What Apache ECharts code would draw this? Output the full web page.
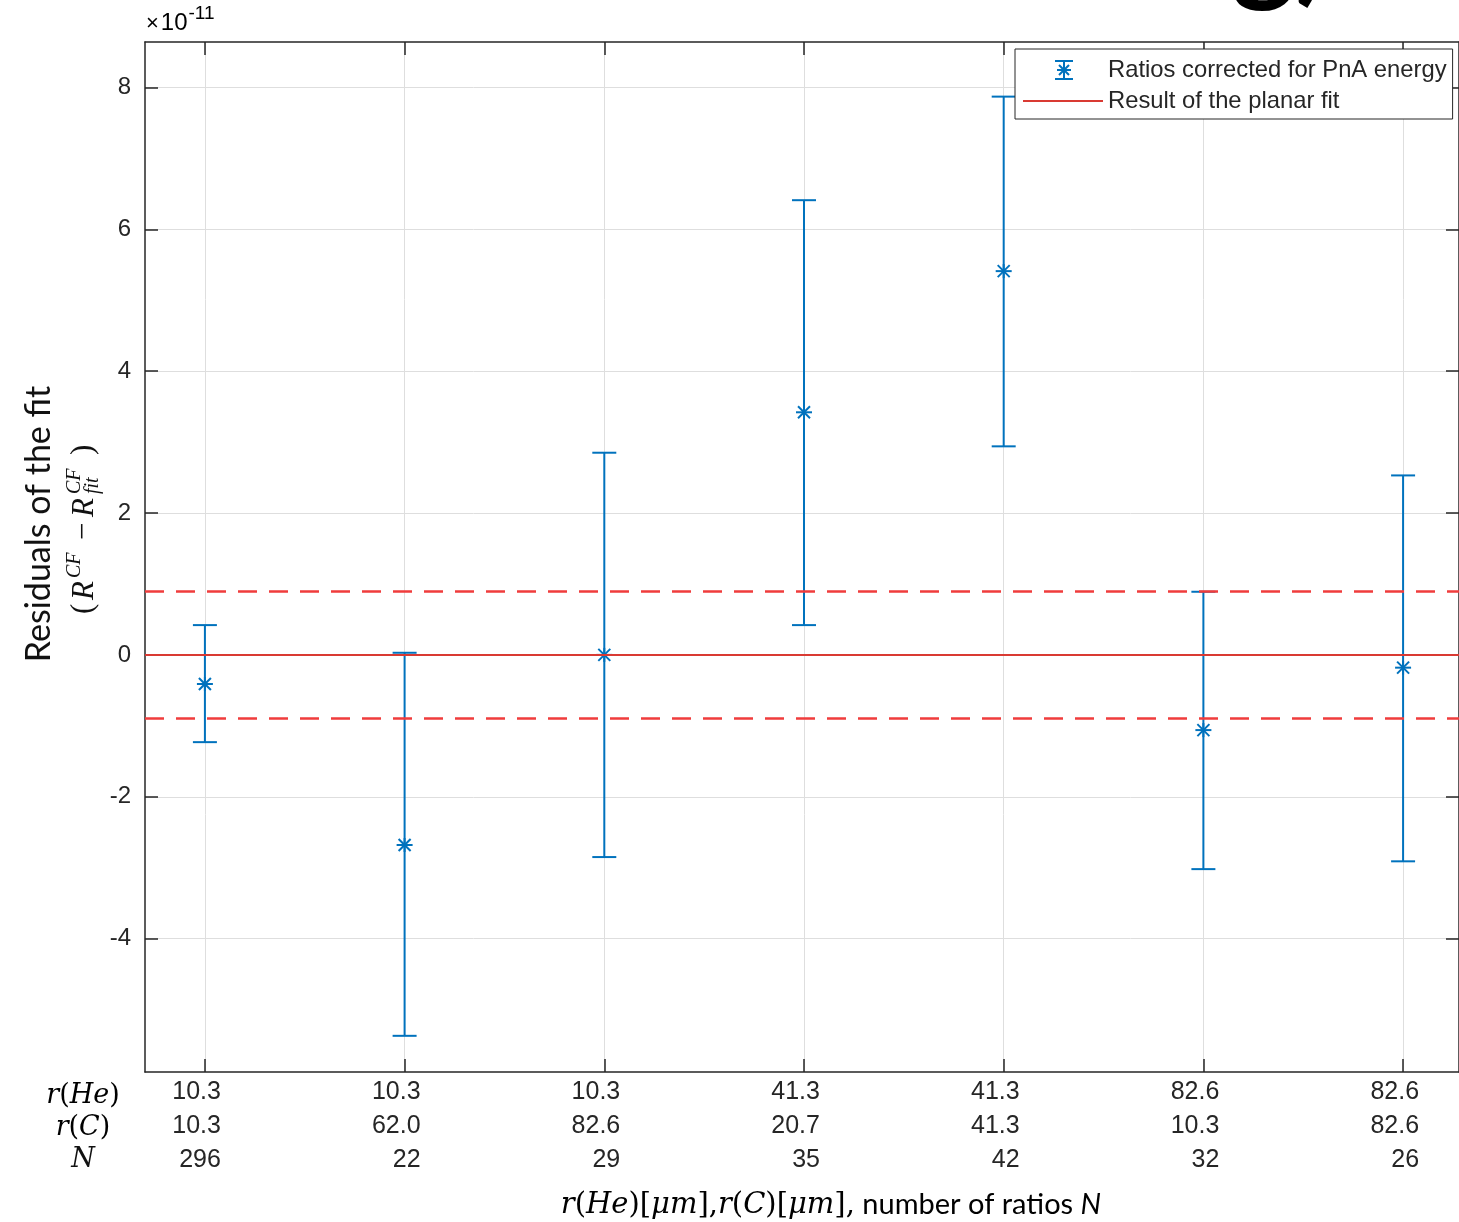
<!DOCTYPE html>
<html>
<head>
<meta charset="utf-8">
<script src="https://cdn.jsdelivr.net/npm/echarts@6/dist/echarts.min.js"></script>
<style>
  html, body { margin: 0; padding: 0; background: #fff; }
  #container { width: 1459px; height: 1222px; }
</style>
</head>
<body>
<div id="container"></div>
<script>
// tick labels under each point
var rHe = ['10.3', '10.3', '10.3', '41.3', '41.3', '82.6', '82.6'];
var rC = ['10.3', '62.0', '82.6', '20.7', '41.3', '10.3', '82.6'];
var nRatios = ['296', '22', '29', '35', '42', '32', '26'];
var positions = [1, 2, 3, 4, 5, 6, 7];
// residuals, in units of 1e-11
var residuals = [-0.41, -2.68, 0.00, 3.42, 5.41, -1.06, -0.18];
var errLow = [-1.23, -5.37, -2.85, 0.42, 2.94, -3.02, -2.91];
var errHigh = [0.42, 0.03, 2.85, 6.41, 7.87, 0.89, 2.53];
var fitLevel = 0;
var bandLevels = [0.9, -0.9];
var yTicks = [-4, -2, 0, 2, 4, 6, 8];

var blue = '#0072BD';
var fitRed = '#d93a33';
var axisColor = '#262626';
var sansFont = 'Liberation Sans';
var mathFont = 'DejaVu Serif';

var errData = [];
for (var i = 0; i < positions.length; i++) {
    errData.push([positions[i], residuals[i], errLow[i], errHigh[i]]);
}

function renderErrorBar(params, api) {
    var x = api.value(0);
    var p = api.coord([x, api.value(1)]);
    var lo = api.coord([x, api.value(2)]);
    var hi = api.coord([x, api.value(3)]);
    var cap = 12, s = 7;
    var st = { stroke: blue, lineWidth: 2, fill: null };
    function seg(x1, y1, x2, y2) {
        return { type: 'line', shape: { x1: x1, y1: y1, x2: x2, y2: y2 }, style: st };
    }
    return {
        type: 'group',
        children: [
            seg(hi[0], hi[1], lo[0], lo[1]),
            seg(hi[0] - cap, hi[1], hi[0] + cap, hi[1]),
            seg(lo[0] - cap, lo[1], lo[0] + cap, lo[1]),
            // asterisk marker
            seg(p[0] - s - 1, p[1], p[0] + s + 1, p[1]),
            seg(p[0], p[1] - s, p[0], p[1] + s),
            seg(p[0] - s + 1, p[1] - s + 1, p[0] + s - 1, p[1] + s - 1),
            seg(p[0] + s - 1, p[1] - s + 1, p[0] - s + 1, p[1] + s - 1)
        ]
    };
}

var dom = document.getElementById('container');
var myChart = echarts.init(dom);

var errIcon = 'path://M0 0M80 20M32 1L50 1M32 19L50 19M41 1L41 19M34 10L48 10M41 4L41 16M36 5L46 15M46 5L36 15';
var lineIcon = 'path://M0 0M80 20M0 10L80 10';

var option = {
    animation: false,
    backgroundColor: '#fff',
    grid: { left: 145, top: 42, right: 0, bottom: 150, containLabel: false },
    legend: {
        orient: 'vertical',
        left: 1015,
        top: 49,
        itemWidth: 80,
        itemHeight: 20,
        itemGap: 7,
        padding: [9, 6, 6, 7],
        backgroundColor: '#fff',
        borderColor: axisColor,
        borderWidth: 1,
        borderRadius: 0,
        textStyle: { fontFamily: sansFont, fontSize: 23.8, color: axisColor, lineHeight: 24 },
        data: [
            { name: 'Ratios corrected for PnA energy', icon: errIcon,
              itemStyle: { color: blue, borderColor: blue, borderWidth: 2 } },
            { name: 'Result of the planar fit', icon: lineIcon,
              itemStyle: { color: fitRed, borderColor: fitRed, borderWidth: 2 } }
        ]
    },
    xAxis: [{
        type: 'value', position: 'bottom', min: 0.7, max: 7.28,
        axisLine: { onZero: false, lineStyle: { color: axisColor, width: 1.5 } },
        axisTick: { inside: true, length: 13, customValues: positions, lineStyle: { color: axisColor, width: 1.5 } },
        axisLabel: { show: false },
        splitLine: { show: true, lineStyle: { color: '#dedede', width: 1 } }
    }, {
        // label carrier, shifted so each block sits like the original
        type: 'value', position: 'bottom', min: 0.62, max: 7.20,
        axisLine: { show: false }, axisTick: { show: false }, splitLine: { show: false },
        axisLabel: {
            customValues: positions,
            align: 'right',
            margin: 3,
            fontFamily: sansFont, fontSize: 25, lineHeight: 34, color: axisColor,
            formatter: function (v) {
                var k = positions.indexOf(Math.round(v));
                return rHe[k] + '\n' + rC[k] + '\n' + nRatios[k];
            }
        }
    }, {
        type: 'value', position: 'top', min: 0.7, max: 7.28,
        axisLine: { onZero: false, lineStyle: { color: axisColor, width: 1.5 } },
        axisTick: { inside: true, length: 13, customValues: positions, lineStyle: { color: axisColor, width: 1.5 } },
        axisLabel: { show: false },
        splitLine: { show: false }
    }],
    yAxis: [{
        type: 'value', position: 'left', min: -5.88, max: 8.64,
        axisLine: { show: true, onZero: false, lineStyle: { color: axisColor, width: 1.5 } },
        axisTick: { show: true, inside: true, length: 13, customValues: yTicks, lineStyle: { color: axisColor, width: 1.5 } },
        axisLabel: { customValues: yTicks, margin: 14, fontFamily: sansFont, fontSize: 24, color: axisColor },
        splitLine: { show: true, lineStyle: { color: '#dedede', width: 1 } }
    }, {
        type: 'value', position: 'right', min: -5.88, max: 8.64,
        axisLine: { show: true, onZero: false, lineStyle: { color: axisColor, width: 1.5 } },
        axisTick: { show: true, inside: true, length: 13, customValues: yTicks, lineStyle: { color: axisColor, width: 1.5 } },
        axisLabel: { show: false },
        splitLine: { show: false }
    }],
    series: [{
        name: 'Result of the planar fit',
        type: 'line',
        data: [],
        symbol: 'none',
        itemStyle: { color: fitRed },
        lineStyle: { color: fitRed, width: 2 },
        z: 3,
        markLine: {
            silent: true,
            symbol: 'none',
            label: { show: false },
            data: [
                { yAxis: fitLevel, lineStyle: { color: fitRed, width: 2, type: 'solid' } },
                { yAxis: bandLevels[0], lineStyle: { color: '#f03c3c', width: 2.5, type: [19, 12] } },
                { yAxis: bandLevels[1], lineStyle: { color: '#f03c3c', width: 2.5, type: [19, 12] } }
            ]
        }
    }, {
        name: 'Ratios corrected for PnA energy',
        type: 'custom',
        renderItem: renderErrorBar,
        data: errData,
        encode: { x: 0, y: 1 },
        itemStyle: { color: blue },
        z: 2
    }],
    graphic: [{
        type: 'text', left: 146, top: 4,
        style: {
            text: '{x|×}{b|10}{s|-11}',
            rich: {
                x: { fontFamily: sansFont, fontSize: 22, color: '#666', verticalAlign: 'bottom', padding: [6, 2, 0, 0] },
                b: { fontFamily: sansFont, fontSize: 24, color: axisColor, verticalAlign: 'bottom', padding: [7, 1, 0, 0] },
                s: { fontFamily: sansFont, fontSize: 19, color: axisColor, verticalAlign: 'top' }
            }
        }
    }, {
        type: 'group', x: 0, y: 524, rotation: Math.PI / 2,
        children: [
            { type: 'text', x: 0, y: 39, style: { text: 'Residuals of the fit', fontFamily: 'Lato', fontSize: 34, fill: '#111', align: 'center', verticalAlign: 'middle' } },
            { type: 'text', x: -90, y: 84, style: { text: '(', fontFamily: 'Liberation Serif', fontSize: 31, fill: '#111', align: 'left', verticalAlign: 'middle' } },
            { type: 'text', x: -76, y: 85, style: { text: 'R', fontFamily: 'Liberation Serif', fontStyle: 'italic', fontSize: 31, fill: '#111', align: 'left', verticalAlign: 'middle' } },
            { type: 'text', x: -54, y: 75, style: { text: 'CF', fontFamily: 'Liberation Serif', fontStyle: 'italic', fontSize: 20, fill: '#111', align: 'left', verticalAlign: 'middle' } },
            { type: 'text', x: -16, y: 84, style: { text: '−', fontFamily: 'Liberation Serif', fontSize: 31, fill: '#111', align: 'left', verticalAlign: 'middle' } },
            { type: 'text', x: 7, y: 85, style: { text: 'R', fontFamily: 'Liberation Serif', fontStyle: 'italic', fontSize: 31, fill: '#111', align: 'left', verticalAlign: 'middle' } },
            { type: 'text', x: 30, y: 75, style: { text: 'CF', fontFamily: 'Liberation Serif', fontStyle: 'italic', fontSize: 20, fill: '#111', align: 'left', verticalAlign: 'middle' } },
            { type: 'text', x: 30, y: 93, style: { text: 'fit', fontFamily: 'Liberation Serif', fontStyle: 'italic', fontSize: 20, fill: '#111', align: 'left', verticalAlign: 'middle' } },
            { type: 'text', x: 69, y: 84, style: { text: ')', fontFamily: 'Liberation Serif', fontSize: 31, fill: '#111', align: 'left', verticalAlign: 'middle' } }
        ]
    }, {
        type: 'text', x: 83, y: 1096,
        style: { text: '{i|r}{u|(}{i|He}{u|)}', align: 'center', verticalAlign: 'middle',
            rich: { i: { fontFamily: mathFont, fontStyle: 'italic', fontSize: 27, color: '#111' },
                    u: { fontFamily: mathFont, fontSize: 27, color: '#111' } } }
    }, {
        type: 'text', x: 83, y: 1128,
        style: { text: '{i|r}{u|(}{i|C}{u|)}', align: 'center', verticalAlign: 'middle',
            rich: { i: { fontFamily: mathFont, fontStyle: 'italic', fontSize: 27, color: '#111' },
                    u: { fontFamily: mathFont, fontSize: 27, color: '#111' } } }
    }, {
        type: 'text', x: 83, y: 1160,
        style: { text: 'N', fontFamily: mathFont, fontStyle: 'italic', fontSize: 27, fill: '#111', align: 'center', verticalAlign: 'middle' }
    }, {
        type: 'text', x: 831, y: 1205,
        style: {
            text: '{i|r}{u|(}{i|He}{u|)[}{i|μm}{u|],}{i|r}{u|(}{i|C}{u|)[}{i|μm}{u|],}{t| number of ratios }{ti|N}',
            align: 'center', verticalAlign: 'middle',
            rich: {
                i: { fontFamily: mathFont, fontStyle: 'italic', fontSize: 29, color: '#111' },
                u: { fontFamily: mathFont, fontSize: 29, color: '#111' },
                t: { fontFamily: 'Lato', fontSize: 29, color: '#111' },
                ti: { fontFamily: 'Lato', fontStyle: 'italic', fontSize: 29, color: '#111' }
            }
        }
    }, {
        type: 'text', x: 1232, y: 10,
        style: { text: 'g)', fontFamily: 'Lato', fontWeight: 'bold', fontSize: 120, fill: '#000', align: 'left', verticalAlign: 'bottom' }
    }]
};

if (option && typeof option === 'object') {
    myChart.setOption(option, true);
}
</script>
</body>
</html>
